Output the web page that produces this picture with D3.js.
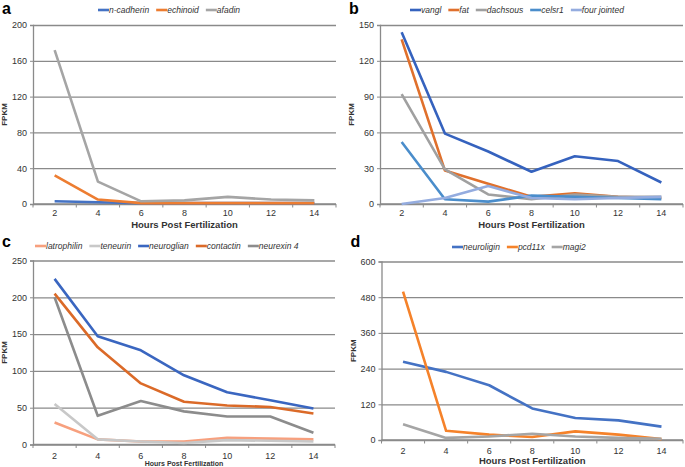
<!DOCTYPE html>
<html>
<head>
<meta charset="utf-8">
<script src="https://cdn.jsdelivr.net/npm/d3@7"></script>
<style>
  body { margin: 0; background: #fff; }
  svg { font-family: "Liberation Sans", Arial, sans-serif; }
</style>
</head>
<body>
<div id="chart"></div>
<script>
// Hours post fertilization (categories shared by all panels)
const hours = [2, 4, 6, 8, 10, 12, 14];

// Panel a
const aSeries = ['n-cadherin', 'echinoid', 'afadin'];
const aValues = [
    [3, 2, 1, 1, 1, 1, 1],
    [32, 5, 1, 1, 1, 1, 1],
    [172, 25, 3, 4, 8, 5, 4]
];
const aTicks = [0, 40, 80, 120, 160, 200];

// Panel b
const bSeries = ['vangl', 'fat', 'dachsous', 'celsr1', 'four jointed'];
const bValues = [
    [144, 59, 44, 27, 40, 36, 18],
    [138, 28, 17, 6, 9, 6, 5],
    [92, 29, 8, 4, 8, 6, 6],
    [52, 4, 2, 7, 6, 5, 4],
    [0, 5, 15, 5, 4, 5, 6]
];
const bTicks = [0, 30, 60, 90, 120, 150];

// Panel c
const cSeries = ['latrophilin', 'teneurin', 'neuroglian', 'contactin', 'neurexin 4'];
const cValues = [
    [30, 7, 4, 4, 9, 8, 7],
    [55, 7, 4, 2, 6, 5, 4],
    [225, 147, 128, 94, 71, 60, 49],
    [205, 132, 83, 58, 53, 51, 42],
    [200, 39, 59, 45, 38, 38, 16]
];
const cTicks = [0, 50, 100, 150, 200, 250];

// Panel d
const dSeries = ['neuroligin', 'pcd11x', 'magi2'];
const dValues = [
    [263, 229, 184, 106, 74, 66, 45],
    [499, 31, 18, 10, 29, 18, 3],
    [53, 7, 12, 21, 12, 7, 4]
];
const dTicks = [0, 120, 240, 360, 480, 600];

const svg = d3.select('#chart')
    .append('svg')
    .attr('width', 685)
    .attr('height', 467);

const panels = [
    { label: 'a', series: aSeries, values: aValues, ticks: aTicks,
      colors: ['#4472c4', '#ed7d31', '#a5a5a5'],
      left: 33, right: 336, top: 25, bottom: 204,
      legendX: 98, legendY: 10, labelY: 14, tickY: 216, titleY: 228, titleSize: 9.5 },
    { label: 'b', series: bSeries, values: bValues, ticks: bTicks,
      colors: ['#3562be', '#e0702c', '#a0a0a0', '#4a8dcb', '#94acdf'],
      left: 380, right: 683, top: 25, bottom: 204,
      legendX: 410, legendY: 10, labelY: 14, tickY: 216, titleY: 228, titleSize: 9.5 },
    { label: 'c', series: cSeries, values: cValues, ticks: cTicks,
      colors: ['#f7a07e', '#c8c8c8', '#3a66c0', '#db6a28', '#8c8c8c'],
      left: 33, right: 335, top: 260.5, bottom: 444.5,
      legendX: 35, legendY: 246, labelY: 247, tickY: 459, titleY: 466, titleSize: 7 },
    { label: 'd', series: dSeries, values: dValues, ticks: dTicks,
      colors: ['#4472c4', '#f5822a', '#a5a5a5'],
      left: 381.5, right: 683, top: 261.5, bottom: 440,
      legendX: 452, legendY: 247, labelY: 247, tickY: 454, titleY: 464, titleSize: 9.5 }
];

panels.forEach(p => {
    const g = svg.append('g');

    const x = d3.scaleBand()
        .domain(hours)
        .range([p.left, p.right]);

    const y = d3.scaleLinear()
        .domain([0, d3.max(p.ticks)])
        .range([p.bottom, p.top]);

    // grid lines
    g.append('g')
        .attr('transform', `translate(${p.left},0)`)
        .call(d3.axisLeft(y).tickValues(p.ticks).tickSize(-(p.right - p.left)).tickFormat(''))
        .call(s => s.select('.domain').remove())
        .selectAll('line')
        .attr('stroke', '#8a8a8a')
        .attr('stroke-width', 1.3);

    // y axis
    const yAx = g.append('g')
        .attr('transform', `translate(${p.left},0)`)
        .call(d3.axisLeft(y).tickValues(p.ticks).tickSize(3).tickPadding(3));
    yAx.select('.domain').attr('stroke', '#8a8a8a').attr('stroke-width', 1.3);
    yAx.selectAll('line').attr('stroke', '#8a8a8a');
    yAx.selectAll('text').attr('font-size', 9).attr('fill', '#333');

    // x axis: ticks between categories
    const xAx = g.append('g')
        .attr('transform', `translate(0,${p.bottom})`);
    xAx.append('line')
        .attr('x1', p.left).attr('x2', p.right)
        .attr('stroke', '#8a8a8a').attr('stroke-width', 1.3);
    xAx.selectAll('.tk')
        .data(hours.concat(['end']))
        .enter()
        .append('line')
        .attr('x1', (d, i) => i < hours.length ? x(d) : p.right)
        .attr('x2', (d, i) => i < hours.length ? x(d) : p.right)
        .attr('y1', 0).attr('y2', 3.5)
        .attr('stroke', '#8a8a8a');
    g.selectAll('.xlab')
        .data(hours)
        .enter()
        .append('text')
        .attr('x', d => x(d) + x.bandwidth() / 2)
        .attr('y', p.tickY)
        .attr('text-anchor', 'middle')
        .attr('font-size', 9)
        .attr('fill', '#333')
        .text(d => d);

    // axis titles
    g.append('text')
        .attr('x', (p.left + p.right) / 2)
        .attr('y', p.titleY)
        .attr('text-anchor', 'middle')
        .attr('font-size', p.titleSize)
        .attr('font-weight', 'bold')
        .attr('fill', '#333')
        .text('Hours Post Fertilization');
    g.append('text')
        .attr('transform', `translate(${p.left - 26},${(p.top + p.bottom) / 2}) rotate(-90)`)
        .attr('text-anchor', 'middle')
        .attr('font-size', 8)
        .attr('font-weight', 'bold')
        .attr('fill', '#333')
        .text('FPKM');

    // panel letter
    g.append('text')
        .attr('x', p.left - 31)
        .attr('y', p.labelY)
        .attr('font-size', 16)
        .attr('font-weight', 'bold')
        .attr('fill', '#000')
        .text(p.label);

    // lines
    const line = d3.line()
        .x((d, i) => x(hours[i]) + x.bandwidth() / 2)
        .y(d => y(d));
    p.values.forEach((vals, k) => {
        g.append('path')
            .datum(vals)
            .attr('d', line)
            .attr('fill', 'none')
            .attr('stroke', p.colors[k])
            .attr('stroke-width', 2.6)
            .attr('stroke-linejoin', 'round');
    });

    // legend
    let lx = p.legendX;
    p.series.forEach((name, k) => {
        g.append('line')
            .attr('x1', lx).attr('x2', lx + 11)
            .attr('y1', p.legendY).attr('y2', p.legendY)
            .attr('stroke', p.colors[k])
            .attr('stroke-width', 2.6);
        const t = g.append('text')
            .attr('x', lx + 11)
            .attr('y', p.legendY + 3)
            .attr('font-size', 8.5)
            .attr('font-style', 'italic')
            .attr('fill', '#333')
            .text(name);
        lx += 11 + t.node().getComputedTextLength() + 7;
    });
});
</script>
</body>
</html>
